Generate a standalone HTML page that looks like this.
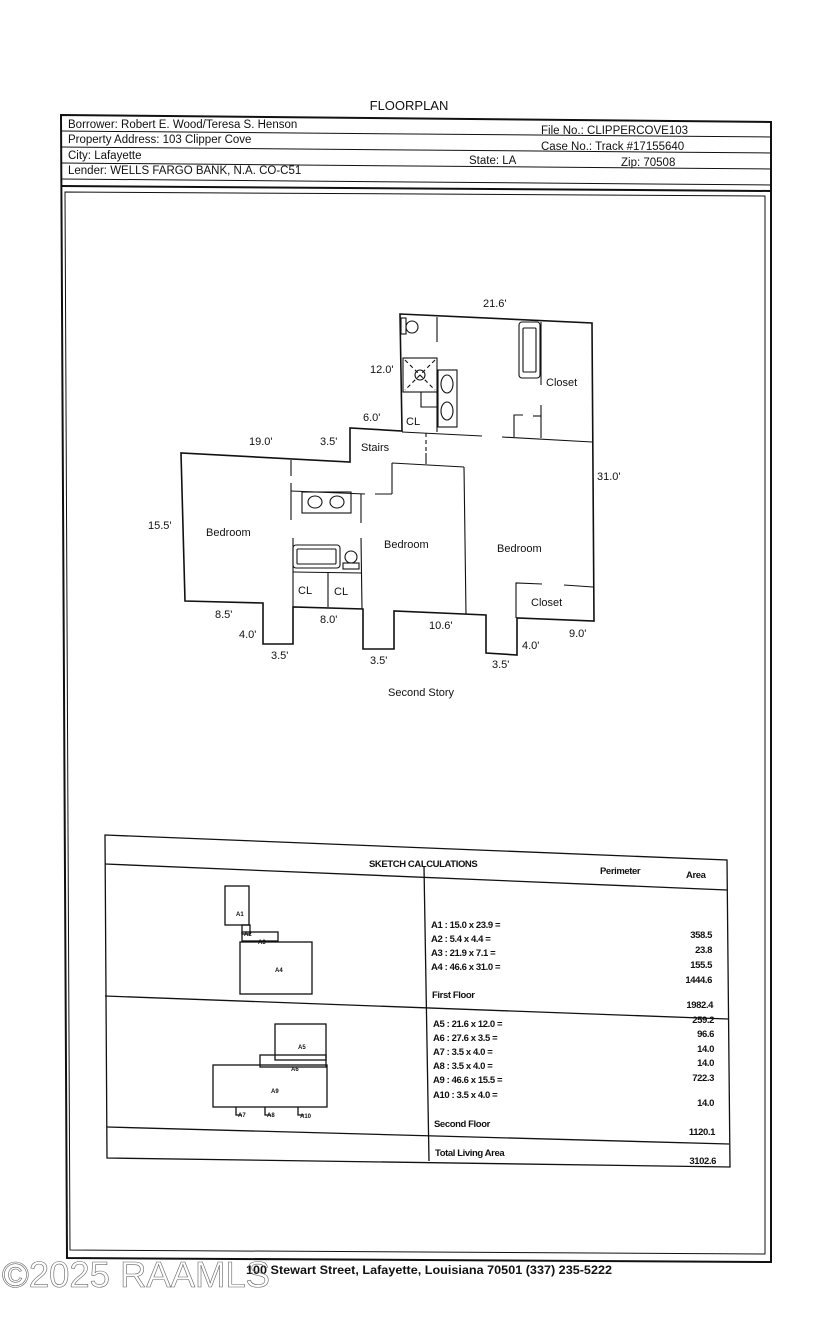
<!DOCTYPE html>
<html><head><meta charset="utf-8"><style>
html,body{margin:0;padding:0;background:#fff;}
svg{display:block;}
text{font-family:"Liberation Sans",Arial,sans-serif;fill:#111;}
</style></head><body>
<svg width="825" height="1335" viewBox="0 0 825 1335" xmlns="http://www.w3.org/2000/svg">
<g fill="none" stroke="#111">
<polygon points="61,115 771,122 771,1262 67,1258" stroke-width="2"/>
<polygon points="65,192 765,196 765,1254 70,1250" stroke-width="1"/>
<line x1="61" y1="131" x2="771" y2="137" stroke-width="1"/>
<line x1="61" y1="147" x2="771" y2="153" stroke-width="1"/>
<line x1="61" y1="163" x2="771" y2="169" stroke-width="1"/>
<line x1="61" y1="179" x2="771" y2="185" stroke-width="1"/>
<line x1="61" y1="186" x2="771" y2="191" stroke-width="2"/>
</g>
<text x="409" y="110" font-size="13" text-anchor="middle">FLOORPLAN</text>
<g font-size="11.5">
<text x="68" y="128">Borrower: Robert E. Wood/Teresa S. Henson</text>
<text x="68" y="143">Property Address: 103 Clipper Cove</text>
<text x="68" y="159">City: Lafayette</text>
<text x="68" y="174">Lender: WELLS FARGO BANK, N.A. CO-C51</text>
<text x="541" y="134">File No.:  CLIPPERCOVE103</text>
<text x="541" y="150">Case No.: Track #17155640</text>
<text x="469" y="164">State: LA</text>
<text x="621" y="166">Zip: 70508</text>
</g>

<g fill="none" stroke="#111" stroke-width="1.6">
<polygon points="400,314 592,323 594,621 517,618 517,655 486,653 486,615 394,611 394,649 363,649 363,609 293,607 293,644 263,644 263,603 185,601 181,453 350,462 350,428 402,431"/>
</g>
<g fill="none" stroke="#111" stroke-width="1.1">
<line x1="437" y1="317" x2="437" y2="342"/>
<rect x="401" y="318" width="5" height="16"/>
<circle cx="412" cy="327" r="6"/>
<rect x="403" y="358" width="34" height="34"/>
<line x1="405" y1="360" x2="435" y2="390" stroke-dasharray="4,3"/>
<line x1="435" y1="360" x2="405" y2="390" stroke-dasharray="4,3"/>
<circle cx="420" cy="375" r="5"/>
<rect x="438" y="370" width="19" height="57"/>
<ellipse cx="447" cy="384" rx="6" ry="9"/>
<ellipse cx="447" cy="411" rx="6" ry="9"/>
<line x1="437" y1="392" x2="437" y2="432"/>
<polyline points="421,392 421,407 438,407"/>
<line x1="402" y1="432" x2="482" y2="436"/>
<line x1="502" y1="437" x2="592" y2="442"/>
<rect x="519" y="322" width="21" height="56" rx="3"/>
<rect x="523" y="328" width="13" height="44" rx="1"/>
<line x1="541" y1="322" x2="541" y2="385"/>
<line x1="541" y1="405" x2="541" y2="438"/>
<polyline points="514,437 514,415 523,415"/>
<line x1="533" y1="416" x2="541" y2="416"/>
<line x1="426" y1="433" x2="426" y2="453" stroke-dasharray="4,3"/>
<line x1="426" y1="453" x2="426" y2="464"/>
<line x1="392" y1="463" x2="464" y2="467"/>
<line x1="464" y1="467" x2="466" y2="614"/>
<line x1="392" y1="463" x2="392" y2="494"/>
<line x1="375" y1="494" x2="392" y2="494"/>
<line x1="291" y1="491" x2="365" y2="494"/>
<line x1="291" y1="460" x2="291" y2="476"/>
<line x1="291" y1="483" x2="291" y2="520"/>
<line x1="293" y1="538" x2="293" y2="607"/>
<rect x="302" y="492" width="49" height="21"/>
<ellipse cx="315" cy="502" rx="7" ry="6"/>
<ellipse cx="337" cy="502" rx="7" ry="6"/>
<line x1="361" y1="494" x2="361" y2="523"/>
<line x1="361" y1="538" x2="362" y2="609"/>
<rect x="293" y="545" width="47" height="23" rx="3"/>
<rect x="297" y="549" width="39" height="15" rx="1"/>
<circle cx="351" cy="557" r="6"/>
<rect x="343" y="563" width="16" height="6"/>
<line x1="293" y1="572" x2="362" y2="573"/>
<line x1="328" y1="573" x2="328" y2="607"/>
<polyline points="516,618 516,583 542,584"/>
<line x1="564" y1="585" x2="593" y2="587"/>
</g>
<g font-size="11">
<text x="483" y="307">21.6'</text>
<text x="370" y="373">12.0'</text>
<text x="363" y="421">6.0'</text>
<text x="406" y="425">CL</text>
<text x="546" y="386">Closet</text>
<text x="249" y="445">19.0'</text>
<text x="320" y="445">3.5'</text>
<text x="361" y="451">Stairs</text>
<text x="597" y="480">31.0'</text>
<text x="148" y="529">15.5'</text>
<text x="206" y="536">Bedroom</text>
<text x="384" y="548">Bedroom</text>
<text x="497" y="552">Bedroom</text>
<text x="298" y="594">CL</text>
<text x="334" y="595">CL</text>
<text x="531" y="606">Closet</text>
<text x="215" y="618">8.5'</text>
<text x="239" y="638">4.0'</text>
<text x="320" y="623">8.0'</text>
<text x="429" y="629">10.6'</text>
<text x="522" y="649">4.0'</text>
<text x="569" y="637">9.0'</text>
<text x="271" y="659">3.5'</text>
<text x="370" y="664">3.5'</text>
<text x="492" y="668">3.5'</text>
<text x="388" y="696">Second Story</text>
</g>

<g fill="none" stroke="#111" stroke-width="1.3">
<polygon points="105,835 727,860 730,1167 107,1158"/>
<line x1="105" y1="864" x2="727" y2="890"/>
<line x1="424" y1="867" x2="429" y2="1161"/>
<line x1="105" y1="996" x2="728" y2="1019"/>
<line x1="107" y1="1127" x2="729" y2="1144"/>
<rect x="225" y="886" width="24" height="39"/>
<rect x="242" y="925" width="8" height="9"/>
<rect x="242" y="932" width="36" height="9"/>
<rect x="240" y="942" width="72" height="52"/>
<rect x="275" y="1024" width="51" height="36"/>
<rect x="260" y="1055" width="66" height="12"/>
<rect x="213" y="1065" width="114" height="42"/>
<polyline points="236,1107 236,1115 242,1115"/>
<polyline points="265,1107 265,1115 271,1115"/>
<polyline points="298,1107 298,1115 304,1115"/>
</g>
<g font-size="6" font-weight="bold">
<text x="236" y="916">A1</text>
<text x="244" y="936">A2</text>
<text x="258" y="944">A3</text>
<text x="275" y="972">A4</text>
<text x="298" y="1049">A5</text>
<text x="291" y="1071">A6</text>
<text x="271" y="1093">A9</text>
<text x="238" y="1117">A7</text>
<text x="267" y="1117">A8</text>
<text x="300" y="1118">A10</text>
</g>
<g font-size="9.5" font-weight="bold" letter-spacing="-0.4">
<text x="369" y="867">SKETCH CALCULATIONS</text>
<text x="600" y="874">Perimeter</text>
<text x="686" y="878">Area</text>
<text x="431" y="928">A1 : 15.0 x 23.9 =</text>
<text x="431" y="942">A2 : 5.4 x 4.4 =</text>
<text x="431" y="956">A3 : 21.9 x 7.1 =</text>
<text x="431" y="970">A4 : 46.6 x 31.0 =</text>
<text x="432" y="998">First Floor</text>
<text x="712" y="938" text-anchor="end">358.5</text>
<text x="712" y="953" text-anchor="end">23.8</text>
<text x="712" y="968" text-anchor="end">155.5</text>
<text x="712" y="983" text-anchor="end">1444.6</text>
<text x="713" y="1008" text-anchor="end">1982.4</text>
<text x="433" y="1027">A5 : 21.6 x 12.0 =</text>
<text x="433" y="1041">A6 : 27.6 x 3.5 =</text>
<text x="433" y="1055">A7 : 3.5 x 4.0 =</text>
<text x="433" y="1069">A8 : 3.5 x 4.0 =</text>
<text x="433" y="1083">A9 : 46.6 x 15.5 =</text>
<text x="433" y="1098">A10 : 3.5 x 4.0 =</text>
<text x="714" y="1023" text-anchor="end">259.2</text>
<text x="714" y="1037" text-anchor="end">96.6</text>
<text x="714" y="1052" text-anchor="end">14.0</text>
<text x="714" y="1066" text-anchor="end">14.0</text>
<text x="714" y="1081" text-anchor="end">722.3</text>
<text x="714" y="1106" text-anchor="end">14.0</text>
<text x="434" y="1127">Second Floor</text>
<text x="715" y="1135" text-anchor="end">1120.1</text>
<text x="435" y="1156">Total Living Area</text>
<text x="716" y="1164" text-anchor="end">3102.6</text>
</g>

<text x="246" y="1274" font-size="11.5" font-weight="bold" textLength="366" lengthAdjust="spacingAndGlyphs">100 Stewart Street, Lafayette, Louisiana 70501   (337) 235-5222</text>
<text x="2" y="1287" font-size="36" style="fill:none;stroke:#666;stroke-width:0.6" textLength="268" lengthAdjust="spacingAndGlyphs">©2025 RAAMLS</text>
</svg>
</body></html>
